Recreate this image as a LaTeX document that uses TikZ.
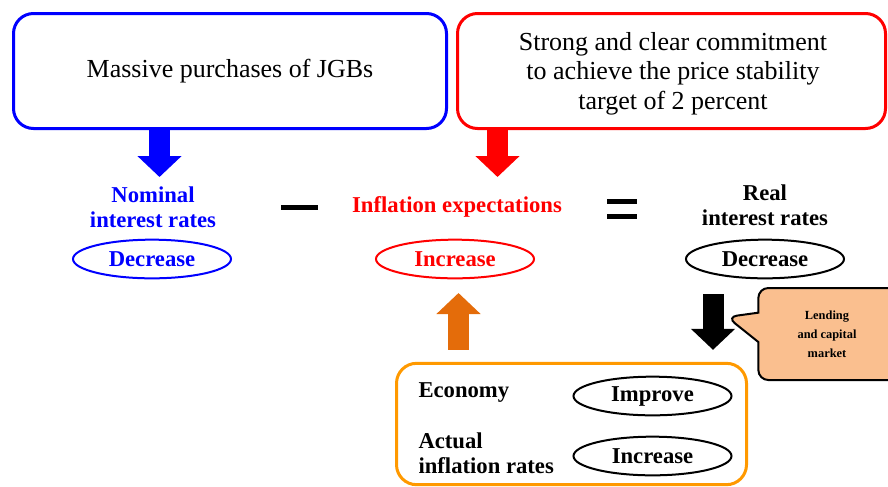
\documentclass[tikz,border=0pt]{standalone}
\usepackage{fontspec}
\setmainfont{Liberation Serif}
\usetikzlibrary{arrows.meta,shapes.geometric,shapes.callouts}

\definecolor{jgbblue}{RGB}{0,0,255}
\definecolor{commitred}{RGB}{255,0,0}
\definecolor{econorange}{RGB}{255,153,0}
\definecolor{uporange}{RGB}{228,108,10}
\definecolor{lendfill}{RGB}{250,191,143}

\tikzset{every picture/.style={line width=0.75pt}}
\tikzset{
  bigbox/.style={draw, rounded corners=15pt, line width=2.25pt, align=center,
    inner sep=0pt, font=\fontsize{19.5}{22}\selectfont},
  lbl/.style={inner sep=0pt, align=center, font=\bfseries\fontsize{17}{19}\selectfont},
  oval/.style={ellipse, draw, line width=1.5pt, minimum width=118.5pt,
    minimum height=29pt, inner sep=0pt, font=\bfseries\fontsize{17}{19}\selectfont},
  fatarrow/.style={line width=15.75pt, -{Triangle[width=32.25pt,length=15.75pt]}},
  sign/.style={line width=3.5pt}
}

\begin{document}
\begin{tikzpicture}[x=0.75pt,y=0.75pt,yscale=-1,xscale=1]
    \useasboundingbox (0,0) rectangle (888,486);
    \clip (0,0) rectangle (888,486);
    %Rounded Rect [id:jgb]
    \node [bigbox, draw=jgbblue, minimum width=324.75pt, minimum height=86.25pt] (jgb) at (230,71) {\raisebox{-2pt}{Massive purchases of JGBs}};
    %Rounded Rect [id:commit]
    \node [bigbox, draw=commitred, minimum width=321pt, minimum height=86.25pt] (commit) at (671.5,71) {};
    \node [inner sep=0pt, align=center, font=\fontsize{19.5}{22}\selectfont] (committext) at (673,73.5) {Strong and clear commitment\\to achieve the price stability\\target of 2 percent};
    % Text Node
    \node [lbl, text=jgbblue] (nominal) at (153,207) {Nominal\\interest rates};
    \node [oval, draw=jgbblue, text=jgbblue] (nomdec) at (152,259) {Decrease};
    % Text Node
    \node [lbl, text=commitred] (inflexp) at (457,207) {Inflation expectations};
    \node [oval, draw=commitred, text=commitred] (inflinc) at (455,259) {Increase};
    % Text Node
    \node [lbl] (real) at (765,205) {Real\\interest rates};
    \node [oval] (realdec) at (765,259) {Decrease};
    %Straight Lines [id:minus]
    \draw [sign, line width=3.75pt] (281,207.5) -- (318,207.5) ;
    %Straight Lines [id:equals]
    \draw [sign] (607,201.5) -- (637,201.5) ;
    \draw [sign] (607,216.5) -- (637,216.5) ;
    %Rounded Rect [id:economy]
    \node [draw=econorange, line width=2.25pt, rounded corners=15pt, minimum width=262.5pt, minimum height=91pt] (econbox) at (571.5,424) {};
    \node [lbl, anchor=west, align=left] (economy) at (418,393) {Economy};
    \node [oval] (improve) at (652.5,396) {Improve};
    \node [lbl, anchor=west, align=left] (actual) at (418,453.5) {Actual\\inflation rates};
    \node [oval] (actinc) at (652.5,456) {Increase};
    %Arrow heads
    \coordinate (bluetip) at (159.5,177);
    \coordinate (redtip) at (497.5,177);
    \coordinate (blackx) at (713,0);
    \coordinate (orangetip) at (458.5,293);
    \draw [fatarrow, jgbblue] (jgb.south -| bluetip) -- (bluetip) ;
    \draw [fatarrow, commitred] (commit.south -| redtip) -- (redtip) ;
    \draw [fatarrow, shorten <=11.25pt, shorten >=9pt] (realdec.south -| blackx) -- (econbox.north -| blackx) ;
    \draw [fatarrow, uporange, shorten <=9pt] (econbox.north -| orangetip) -- (orangetip) ;
    %Callout
    \coordinate (lendptr) at (727,317);
    \node [rectangle callout, callout absolute pointer={(lendptr)}, callout pointer width=22pt,
      draw, fill=lendfill, line width=1.5pt, rounded corners=7.5pt, minimum width=112pt, minimum height=69pt,
      inner sep=0pt] (lending) at (833,334) {};
    \node [inner sep=0pt, align=center, font=\bfseries\fontsize{9.3}{14.3}\selectfont] (lendtext) at (827,334.5) {Lending\\and capital\\market};
\end{tikzpicture}
\end{document}
